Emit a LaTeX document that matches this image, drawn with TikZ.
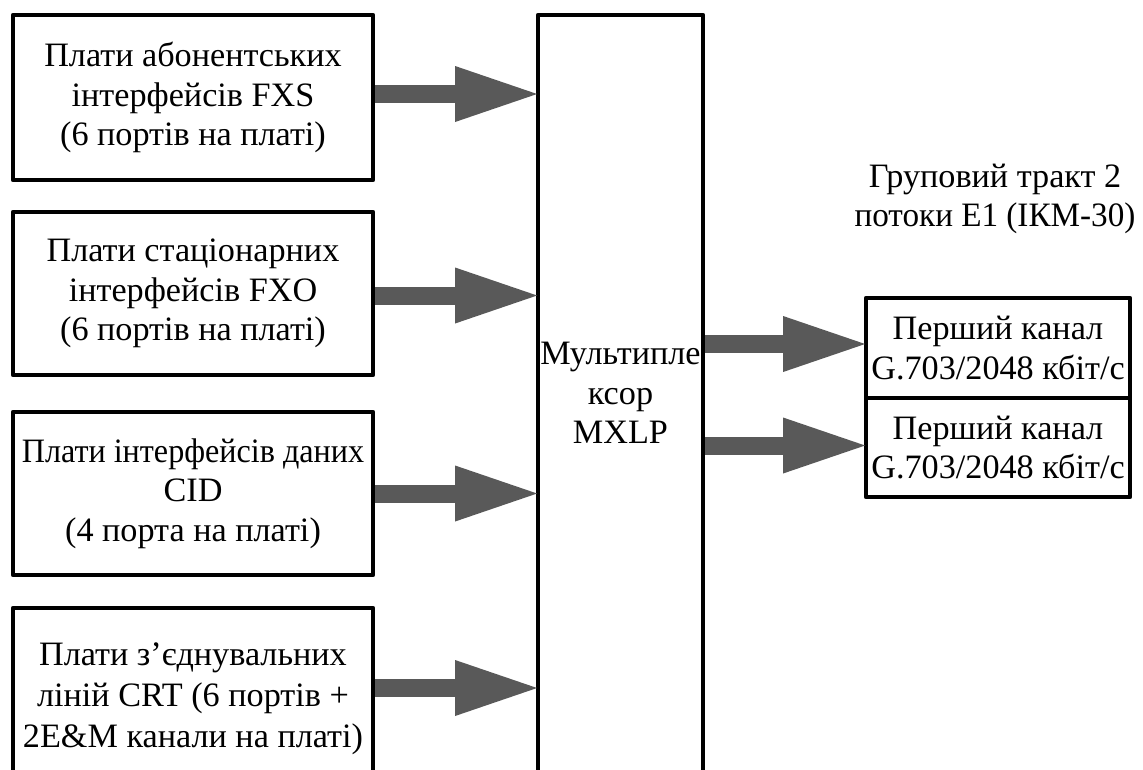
\documentclass[tikz,border=0pt]{standalone}
\usepackage{fontspec}
\usepackage{graphicx}
\setmainfont{Liberation Serif}
\usetikzlibrary{arrows.meta}
\tikzset{
  box/.style={draw=black, line width=4.8pt, line join=round, align=center,
    font=\fontsize{34.2}{39.5}\selectfont, inner sep=0pt},
  plain/.style={align=center, font=\fontsize{34.2}{39.5}\selectfont, inner sep=0pt},
  bigarrow/.style={draw=arrowgrey, line width=18pt,
    -{Triangle[width=56pt,length=82pt,line width=0pt,fill=arrowgrey]}},
}
\definecolor{arrowgrey}{HTML}{595959}
\begin{document}
\begin{tikzpicture}[x=1pt,y=-1pt]
\useasboundingbox (0,0) rectangle (1143,769);
\clip (0,0) rectangle (1143,769);
\node[box, minimum width=360pt, minimum height=165pt] (b1) at (193,97.5)
  {Плати абонентських\\інтерфейсів FXS\\(6 портів на платі)};
\node[box, minimum width=360pt, minimum height=163pt] (b2) at (193,293.5)
  {Плати стаціонарних\\інтерфейсів FXO\\(6 портів на платі)};
\node[box, minimum width=360pt, minimum height=163pt] (b3) at (193,493.5)
  {\scalebox{0.94}[1]{Плати інтерфейсів даних}\\CID\\(4 порта на платі)};
\node[box, minimum width=360pt, minimum height=182pt, font=\fontsize{34.2}{41}\selectfont] (b4) at (193,699)
  {Плати з’єднувальних\\ліній CRT (6 портів +\\2E\&M канали на платі)};
\node[box, minimum width=165pt, minimum height=790pt] (mux) at (620.5,410) {};
\node[plain] (muxt) at (620.5,393) {Мультипле\\ксор\\MXLP};
\node[box, minimum width=264pt, minimum height=100pt] (r1) at (998,348)
  {Перший канал\\G.703/2048 кбіт/с};
\node[box, minimum width=264pt, minimum height=99pt, anchor=north] (r2) at ([yshift=4.8pt]r1.south)
  {Перший канал\\G.703/2048 кбіт/с};
\node[plain] (grp) at (995,199) {Груповий тракт 2\\\scalebox{0.97}[1]{потоки E1 (ІКМ-30)}};
\draw[bigarrow] ([yshift=3.5pt]b1.east) -- ([yshift=3.5pt,xshift=1.5pt]b1.east -| mux.west);
\draw[bigarrow] ([yshift=-2pt]b2.east) -- ([yshift=-2pt,xshift=1.5pt]b2.east -| mux.west);
\draw[bigarrow] (b3.east) -- ([xshift=1.5pt]b3.east -| mux.west);
\draw[bigarrow] ([yshift=11pt]b4.east) -- ([yshift=11pt,xshift=1.5pt]b4.east -| mux.west);
\draw[bigarrow] ([yshift=4pt]r1.west -| mux.east) -- ([yshift=4pt,xshift=1.5pt]r1.west);
\draw[bigarrow] ([yshift=2pt]r2.west -| mux.east) -- ([yshift=2pt,xshift=1.5pt]r2.west);
\end{tikzpicture}
\end{document}
